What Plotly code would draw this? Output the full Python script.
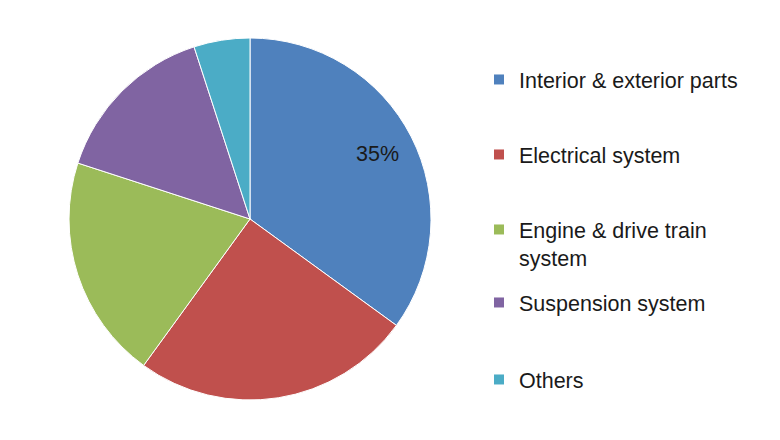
import math

import plotly.graph_objects as go

# data
segments = ["Interior & exterior parts", "Electrical system", "Engine & drive train<br>system",
            "Suspension system", "Others"]
share = [35, 25, 20, 15, 5]
colors = ["#4F81BD", "#C0504D", "#9BBB59", "#8064A2", "#4BACC6"]
labelled = [True, False, False, False, False]

FONT = "Liberation Sans, Arial, sans-serif"
TEXT = "#1a1a1a"
W, H = 780, 440

# pie geometry in figure pixels
cx, cy, R = 242, 211, 181

fig = go.Figure()
fig.add_trace(go.Pie(
    labels=segments, values=share, sort=False, direction="clockwise", rotation=0,
    marker=dict(colors=colors, line=dict(color="white", width=1)),
    textinfo="none",
    domain=dict(x=[(cx - R) / W, (cx + R) / W], y=[1 - (cy + R) / H, 1 - (cy - R) / H]),
    showlegend=False, hoverinfo="label+percent",
))

# percentage label placed out toward the rim like the original
total = sum(share)
start = 0
for val, show in zip(share, labelled):
    mid = math.radians(360 * (start + val / 2) / total)
    start += val
    if not show:
        continue
    r = 0.79 * R
    fig.add_annotation(
        x=(cx + r * math.sin(mid)) / W, y=1 - (cy - r * math.cos(mid)) / H,
        xref="paper", yref="paper", xanchor="center", yanchor="middle", showarrow=False,
        text=f"{round(100 * val / total)}%",
        font=dict(family=FONT, size=21.5, color=TEXT),
    )

# one legend per entry so the rows keep the spacing of the original
row_px = [72, 147, 222, 295, 372]
legends = {}
for i, (name, col) in enumerate(zip(segments, colors)):
    key = "legend" if i == 0 else f"legend{i + 1}"
    fig.add_trace(go.Scatter(
        x=[None], y=[None], mode="markers", name=name,
        marker=dict(symbol="square", size=10, color=col),
        legend=key, showlegend=True,
    ))
    legends[key] = dict(
        x=471 / W, xanchor="left", y=1 - (row_px[i] - 21) / H, yanchor="top",
        valign="top", font=dict(family=FONT, size=21.5, color=TEXT),
        bgcolor="rgba(0,0,0,0)", itemwidth=30,
    )

fig.update_layout(
    width=W, height=H, margin=dict(l=0, r=0, t=0, b=0),
    paper_bgcolor="white", plot_bgcolor="white",
    xaxis=dict(visible=False), yaxis=dict(visible=False),
    font=dict(family=FONT),
    **legends,
)

fig.write_html("out.html")
